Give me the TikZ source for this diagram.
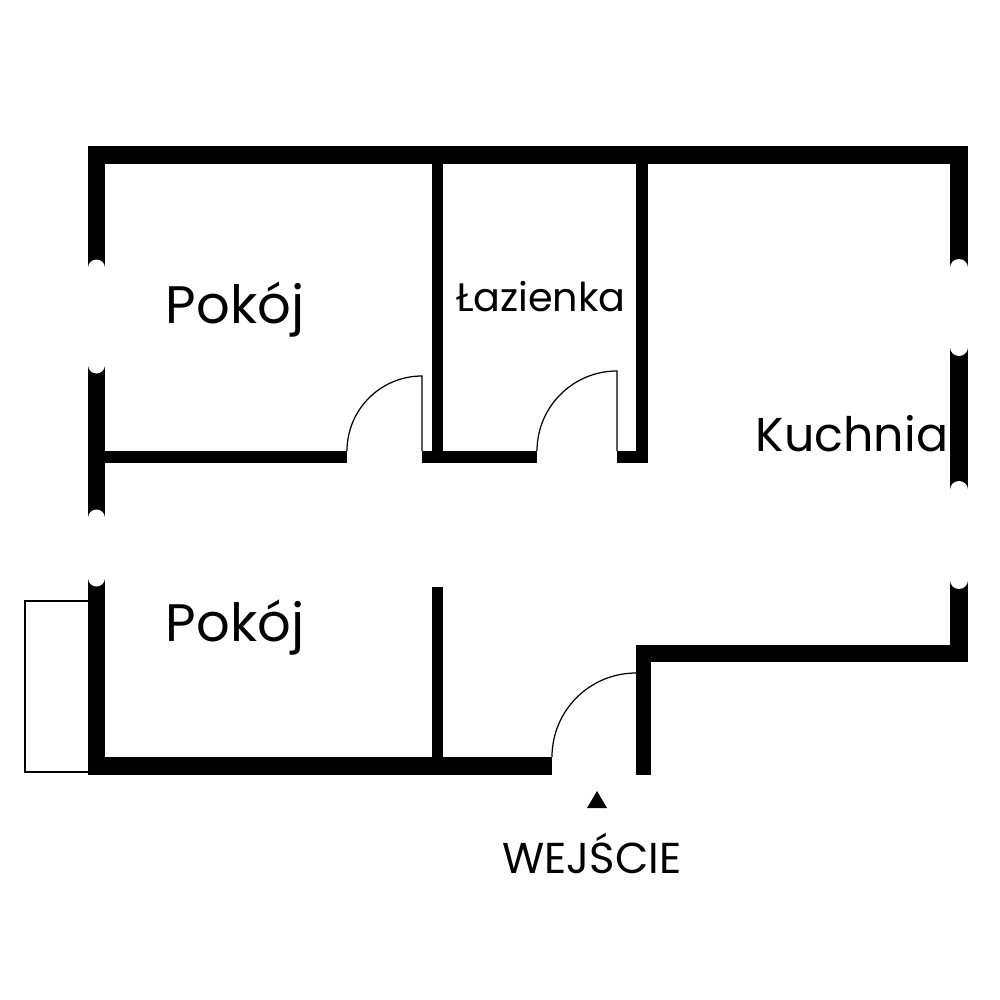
\documentclass[tikz,border=0pt]{standalone}
\usepackage{fontspec}
\setmainfont{Poppins}
\begin{document}
\begin{tikzpicture}[x=0.01cm,y=-0.01cm,
  wall/.style={fill=black},
  notch/.style={fill=white},
  thin/.style={draw=black,line width=0.35pt},
  label/.style={inner sep=0pt,anchor=center}]
\useasboundingbox (0,0) rectangle (1000,1000);
% outer walls
\fill[wall] (88,146) rectangle (968,164);
\fill[wall] (88,146) rectangle (105,268);
\fill[wall] (88,365) rectangle (105,518);
\fill[wall] (88,578) rectangle (105,775);
\fill[wall] (88,757) rectangle (552,775);
\fill[wall] (950,146) rectangle (968,268);
\fill[wall] (950,347) rectangle (968,490);
\fill[wall] (950,580) rectangle (968,662);
\fill[wall] (636,645) rectangle (968,662);
\fill[wall] (636,645) rectangle (651,775);
% window notches
\foreach \yy in {268,365,518,578} \fill[notch] (96.5,\yy) circle (8.5);
\foreach \yy in {268,347,490,580} \fill[notch] (959,\yy) circle (9);
% inner walls
\fill[wall] (105,451) rectangle (347,463);
\fill[wall] (422,451) rectangle (537,463);
\fill[wall] (617,451) rectangle (648,463);
\fill[wall] (432,164) rectangle (443,463);
\fill[wall] (636,164) rectangle (648,463);
\fill[wall] (432,587) rectangle (443,757);
% doors
\draw[thin] (347,451) arc[start angle=180,end angle=270,radius=75] -- (422,451);
\draw[thin] (537,451) arc[start angle=180,end angle=270,radius=80] -- (617,451);
\draw[thin] (552,757) arc[start angle=180,end angle=270,radius=84];
% balcony
\draw[line width=0.6pt] (88,601) -- (25,601) -- (25,772) -- (88,772);
% entrance marker
\fill (597,791) -- (607,808) -- (587,808) -- cycle;
% labels
\node[label,font=\fontsize{15}{15}\selectfont] (p1) at (235,310) {Pokój};
\node[label,font=\fontsize{15}{15}\selectfont] (p2) at (235,628) {Pokój};
\node[label,font=\fontsize{11.3}{11.3}\selectfont] (lz) at (541,297) {Łazienka};
\node[label,font=\fontsize{13.5}{13.5}\selectfont] (ku) at (852,434) {Kuchnia};
\node[label,font=\fontsize{12.3}{12.3}\selectfont] (we) at (592,853) {WEJŚCIE};
\end{tikzpicture}
\end{document}
